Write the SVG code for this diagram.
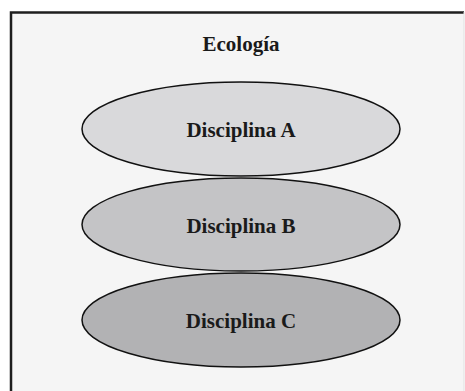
<svg xmlns="http://www.w3.org/2000/svg" width="465" height="391" viewBox="0 0 465 391">
<style>
.bg{fill:#f5f5f5;stroke:none}
.frame{fill:none;stroke:#1e1e1e;stroke-width:2.5}
.ell{stroke:#111;stroke-width:1.5}
.lbl{font-family:"Liberation Serif","Times New Roman",serif;font-weight:bold;font-size:21px;fill:#1a1a1a;text-anchor:middle}
</style>
<rect width="465" height="391" fill="#ffffff"/>
<g id="frame">
<rect class="bg" x="10" y="12" width="454" height="379"/>
<path class="frame" d="M11,391 V12.5 H464"/>
<line x1="464" y1="12" x2="464" y2="391" stroke="#e0e0e0" stroke-width="1"/>
</g>
<g id="title">
<text class="lbl" x="241" y="51">Ecología</text>
</g>
<g id="connectors"></g>
<g id="nodeA">
<ellipse class="ell" cx="241" cy="129" rx="159" ry="47" fill="#d9d9db"/>
<text class="lbl" x="241" y="137">Disciplina A</text>
</g>
<g id="nodeB">
<ellipse class="ell" cx="241" cy="224.5" rx="159" ry="46.5" fill="#c4c4c6"/>
<text class="lbl" x="241" y="232.5">Disciplina B</text>
</g>
<g id="nodeC">
<ellipse class="ell" cx="241" cy="320" rx="159" ry="47" fill="#b2b2b4"/>
<text class="lbl" x="241" y="328">Disciplina C</text>
</g>
</svg>
